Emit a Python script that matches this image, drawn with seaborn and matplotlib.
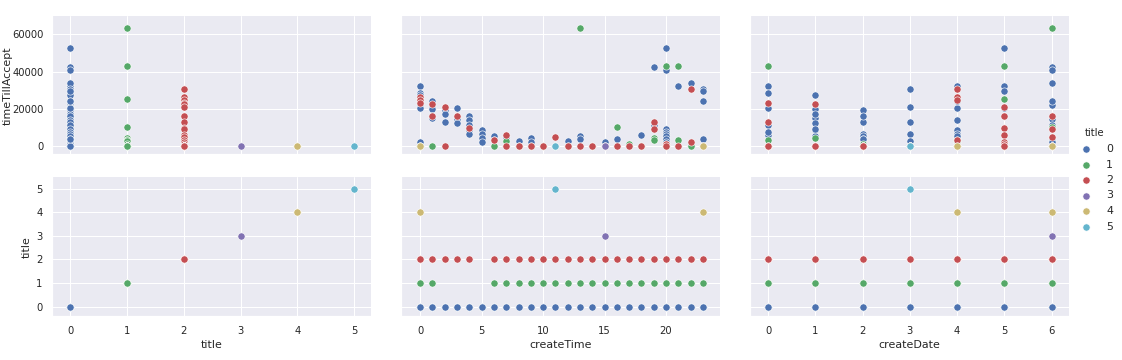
import pandas as pd
import matplotlib
matplotlib.use("Agg")
import matplotlib.pyplot as plt
import seaborn as sns

# title 0 (blue)
t0_time = [0, 0, 0, 0, 0, 0, 0, 0,
           1, 1, 1, 1, 1,
           2, 2, 2, 2,
           3, 3, 3,
           4, 4, 4, 4, 4,
           5, 5, 5, 5,
           6, 6, 6,
           7, 7,
           8, 8,
           9, 9,
           10, 11, 12, 13, 13, 14, 15, 16, 17, 18,
           19, 19, 19,
           20, 20, 20, 20, 20, 20, 20, 20, 20,
           21, 21,
           22, 22,
           23, 23, 23, 23]
t0_date = [0, 5, 0, 1, 6, 0, 4, 0,
           6, 3, 1, 5, 1,
           5, 2, 1, 2,
           4, 6, 1,
           2, 4, 0, 4, 3,
           1, 2, 4, 5,
           1, 2, 5,
           4, 2,
           3, 6,
           6, 4,
           1, 3, 6, 2, 4, 0, 5, 6, 1, 0,
           6, 3, 6,
           5, 6, 1, 0, 4, 4, 2, 6, 4,
           4, 2,
           6, 3,
           3, 5, 4, 2]
t0_wait = [32400, 32000, 28600, 27200, 22000, 20300, 2000, 0,
           24100, 20900, 19700, 16000, 15100,
           20300, 19000, 17300, 13000,
           20300, 14400, 12400,
           15800, 13800, 11000, 8300, 6500,
           8300, 6500, 4400, 2000,
           5100, 2900, 0,
           4700, 0,
           2400, 0,
           4400, 2000,
           0, 0, 2400, 5100, 3800, 0, 1800, 3600, 0, 5900,
           42200, 12800, 11400,
           52400, 41000, 9200, 7400, 6500, 5100, 3800, 2000, 1000,
           32400, 0,
           33600, 0,
           30800, 29500, 24100, 3800]

# title 1 (green)
t1_time = [13, 20, 21, 0, 16, 19, 19, 21, 7, 17,
           1, 6, 8, 9, 10, 11, 12, 14, 15, 18, 20, 22, 23, 0]
t1_date = [6, 0, 5, 5, 6, 1, 0, 4, 4, 2,
           2, 3, 1, 0, 2, 3, 4, 1, 2, 3, 5, 4, 1, 6]
t1_wait = [63500, 43000, 43000, 25000, 10300, 4000, 3000, 3000, 2500, 1000,
           0, 0, 0, 0, 0, 0, 0, 0, 0, 0, 0, 0, 0, 0]

# title 2 (red)
t2_time = [22, 0, 0, 0, 1, 2, 1, 3, 19, 4, 19, 7, 11, 6, 22, 20,
           7, 8, 9, 10, 12, 13, 14, 15, 16, 17, 18, 20, 21, 23, 2]
t2_date = [4, 4, 4, 0, 1, 5, 5, 6, 0, 5, 6, 5, 6, 4, 5, 5,
           1, 2, 3, 0, 1, 2, 3, 5, 6, 0, 1, 2, 6, 4, 5]
t2_wait = [30800, 26100, 24500, 23200, 22700, 20900, 16000, 16000, 13000, 9700,
           9300, 5900, 4500, 2900, 2200, 1000,
           0, 0, 0, 0, 0, 0, 0, 0, 0, 0, 0, 0, 0, 0, 0]

# titles 3, 4, 5
t3_time, t3_date, t3_wait = [15], [6], [0]
t4_time, t4_date, t4_wait = [0, 23], [4, 6], [0, 0]
t5_time, t5_date, t5_wait = [11], [3], [0]

groups = [(0, t0_time, t0_date, t0_wait),
          (1, t1_time, t1_date, t1_wait),
          (2, t2_time, t2_date, t2_wait),
          (3, t3_time, t3_date, t3_wait),
          (4, t4_time, t4_date, t4_wait),
          (5, t5_time, t5_date, t5_wait)]

frames = []
for t, times, dates, waits in groups:
    frames.append(pd.DataFrame({"title": t, "createTime": times,
                                "createDate": dates, "timeTillAccept": waits}))
df = pd.concat(frames, ignore_index=True)

sns.set_theme(style="darkgrid", rc={"font.size": 10, "axes.labelsize": 11,
                                    "xtick.labelsize": 10, "ytick.labelsize": 10,
                                    "legend.fontsize": 11, "legend.title_fontsize": 10})

g = sns.PairGrid(df, hue="title", palette="deep6",
                 x_vars=["title", "createTime", "createDate"],
                 y_vars=["timeTillAccept", "title"],
                 height=2.5, aspect=2)
g.map(plt.scatter, s=52, edgecolor="white", linewidth=0.6)
g.add_legend()

# axis ranges as in the original
g.axes[0, 0].set_ylim(-4700, 69900)
g.axes[1, 0].set_ylim(-0.4, 5.48)
g.axes[1, 0].set_xlim(-0.32, 5.3)
g.axes[1, 1].set_xlim(-1.57, 24.4)
g.axes[1, 2].set_xlim(-0.39, 6.37)

g.fig.set_size_inches(1122 / 72, 360 / 72)
g.fig.subplots_adjust(left=0.0463, right=0.9528, top=0.9556, bottom=0.1222,
                      wspace=0.0925, hspace=0.166)
# keep the long y label inside the figure
g.axes[0, 0].tick_params(axis="y", pad=2)
g.axes[0, 0].yaxis.set_label_coords(-0.122, 0.5)
g._legend.set_bbox_to_anchor((1.001, 0.5))

g.fig.savefig("out.png", dpi=72)
